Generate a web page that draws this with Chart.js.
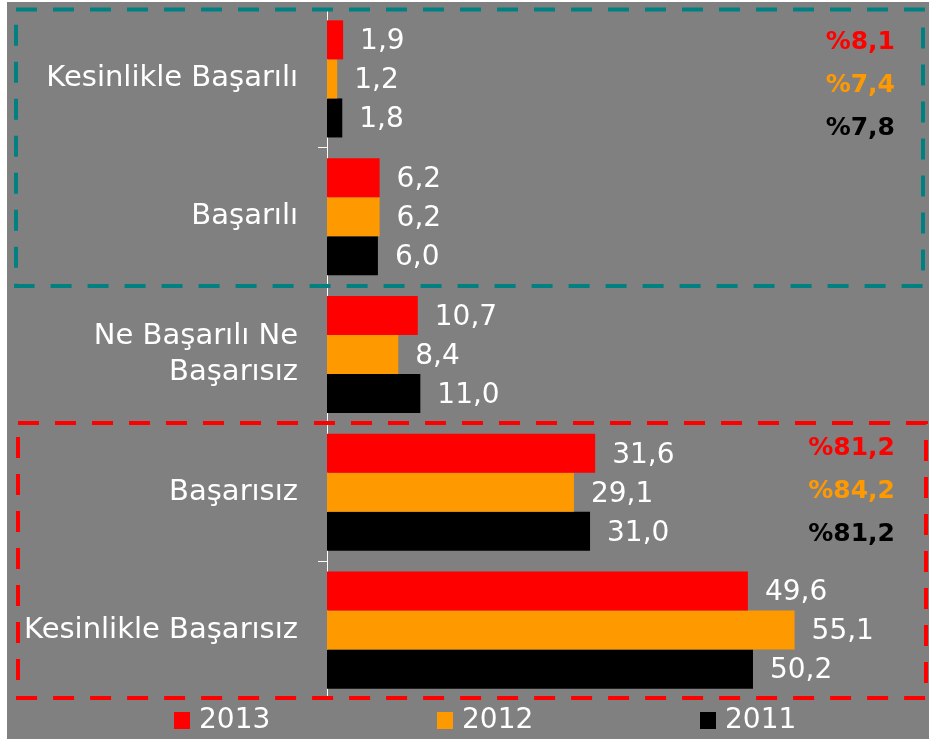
<!DOCTYPE html>
<html>
<head>
<meta charset="utf-8">
<script src="https://cdn.jsdelivr.net/npm/chart.js@4.4.1/dist/chart.umd.min.js"></script>
<style>
  html, body { margin: 0; padding: 0; background: #fff; }
  #wrap { position: absolute; left: 7px; top: 2px; width: 922px; height: 737px; background: #808080; }
</style>
</head>
<body>
<div id="wrap"><canvas id="chart" width="922" height="737"></canvas></div>
<script>
// ================= DATA =================
const categories = [
  "Kesinlikle Başarılı",
  "Başarılı",
  ["Ne Başarılı Ne", "Başarısız"],
  "Başarısız",
  "Kesinlikle Başarısız"
];
const years = ["2013", "2012", "2011"];
const values2013 = [1.9, 6.2, 10.7, 31.6, 49.6];
const values2012 = [1.2, 6.2, 8.4, 29.1, 55.1];
const values2011 = [1.8, 6.0, 11.0, 31.0, 50.2];
const successShares = ["%8,1", "%7,4", "%7,8"];
const failShares = ["%81,2", "%84,2", "%81,2"];

const colors = ["#ff0000", "#ff9900", "#000000"];
const FONT = "'DejaVu Sans', Verdana, sans-serif";

const fmt = v => v.toFixed(1).replace(".", ",");

// ================= OVERLAY PLUGIN =================
// value labels, dashed group boxes, share totals and legend
const overlay = {
  id: "overlay",
  afterDatasetsDraw(chart) {
    const ctx = chart.ctx;
    const y = chart.scales.y;

    // value labels next to bars
    ctx.save();
    ctx.font = "28px " + FONT;
    ctx.fillStyle = "#ffffff";
    ctx.textAlign = "left";
    ctx.textBaseline = "middle";
    chart.data.datasets.forEach((ds, di) => {
      chart.getDatasetMeta(di).data.forEach((bar, i) => {
        ctx.fillText(fmt(ds.data[i]), bar.x + 17, bar.y + 2);
      });
    });
    ctx.restore();

    // category boundaries
    const step = y.getPixelForTick(1) - y.getPixelForTick(0);
    const edge = i => y.getPixelForTick(0) - step / 2 + i * step;

    const box = (color, x1, y1, x2, y2) => {
      ctx.save();
      ctx.strokeStyle = color;
      ctx.lineWidth = 4;
      ctx.setLineDash([21, 16]);
      ctx.strokeRect(x1, y1, x2 - x1, y2 - y1);
      ctx.restore();
    };
    box("#008080", 9, edge(0) - 0.5, chart.width - 6, edge(2) + 0.5);
    box("#ff0000", 11, edge(3) - 0.5, chart.width - 3, edge(5) - 1);

    // share totals on the right
    const shares = (list, cat, shift) => {
      ctx.save();
      ctx.font = "bold 25px " + FONT;
      ctx.textAlign = "right";
      ctx.textBaseline = "middle";
      list.forEach((t, i) => {
        ctx.fillStyle = colors[i];
        ctx.fillText(t, 888, y.getPixelForTick(cat) + (i - 1) * 43 + shift);
      });
      ctx.restore();
    };
    shares(successShares, 0, 7);
    shares(failShares, 3, -1);

    // legend
    ctx.save();
    ctx.font = "28px " + FONT;
    ctx.textAlign = "left";
    ctx.textBaseline = "middle";
    chart.data.datasets.forEach((ds, i) => {
      const lx = 167 + i * 263;
      const ly = 718;
      ctx.fillStyle = ds.backgroundColor;
      ctx.fillRect(lx, ly - 8, 16, 17);
      ctx.fillStyle = "#ffffff";
      ctx.fillText(ds.label, lx + 25, ly + 1);
    });
    ctx.restore();
  }
};

// ================= CHART =================
new Chart(document.getElementById("chart"), {
  type: "bar",
  data: {
    labels: categories,
    datasets: [
      { label: years[0], data: values2013, backgroundColor: colors[0] },
      { label: years[1], data: values2012, backgroundColor: colors[1] },
      { label: years[2], data: values2011, backgroundColor: colors[2] }
    ]
  },
  options: {
    indexAxis: "y",
    responsive: false,
    animation: false,
    categoryPercentage: 0.85,
    barPercentage: 1,
    layout: { padding: { top: 8, bottom: 40, right: 8, left: 0 } },
    plugins: { legend: { display: false }, tooltip: { enabled: false } },
    scales: {
      x: { display: false, min: 0, max: 70 },
      y: {
        afterFit: s => { s.width = 320; s.paddingTop = 0; s.paddingBottom = 0; },
        border: { display: true, color: "#ffffff", width: 1 },
        grid: {
          display: true, drawOnChartArea: false, drawTicks: true,
          tickLength: 9, offset: true, color: "#ffffff"
        },
        ticks: {
          color: "#ffffff", padding: 20,
          font: { family: FONT, size: 29, lineHeight: 1.24 }
        }
      }
    }
  },
  plugins: [overlay]
});
</script>
</body>
</html>
